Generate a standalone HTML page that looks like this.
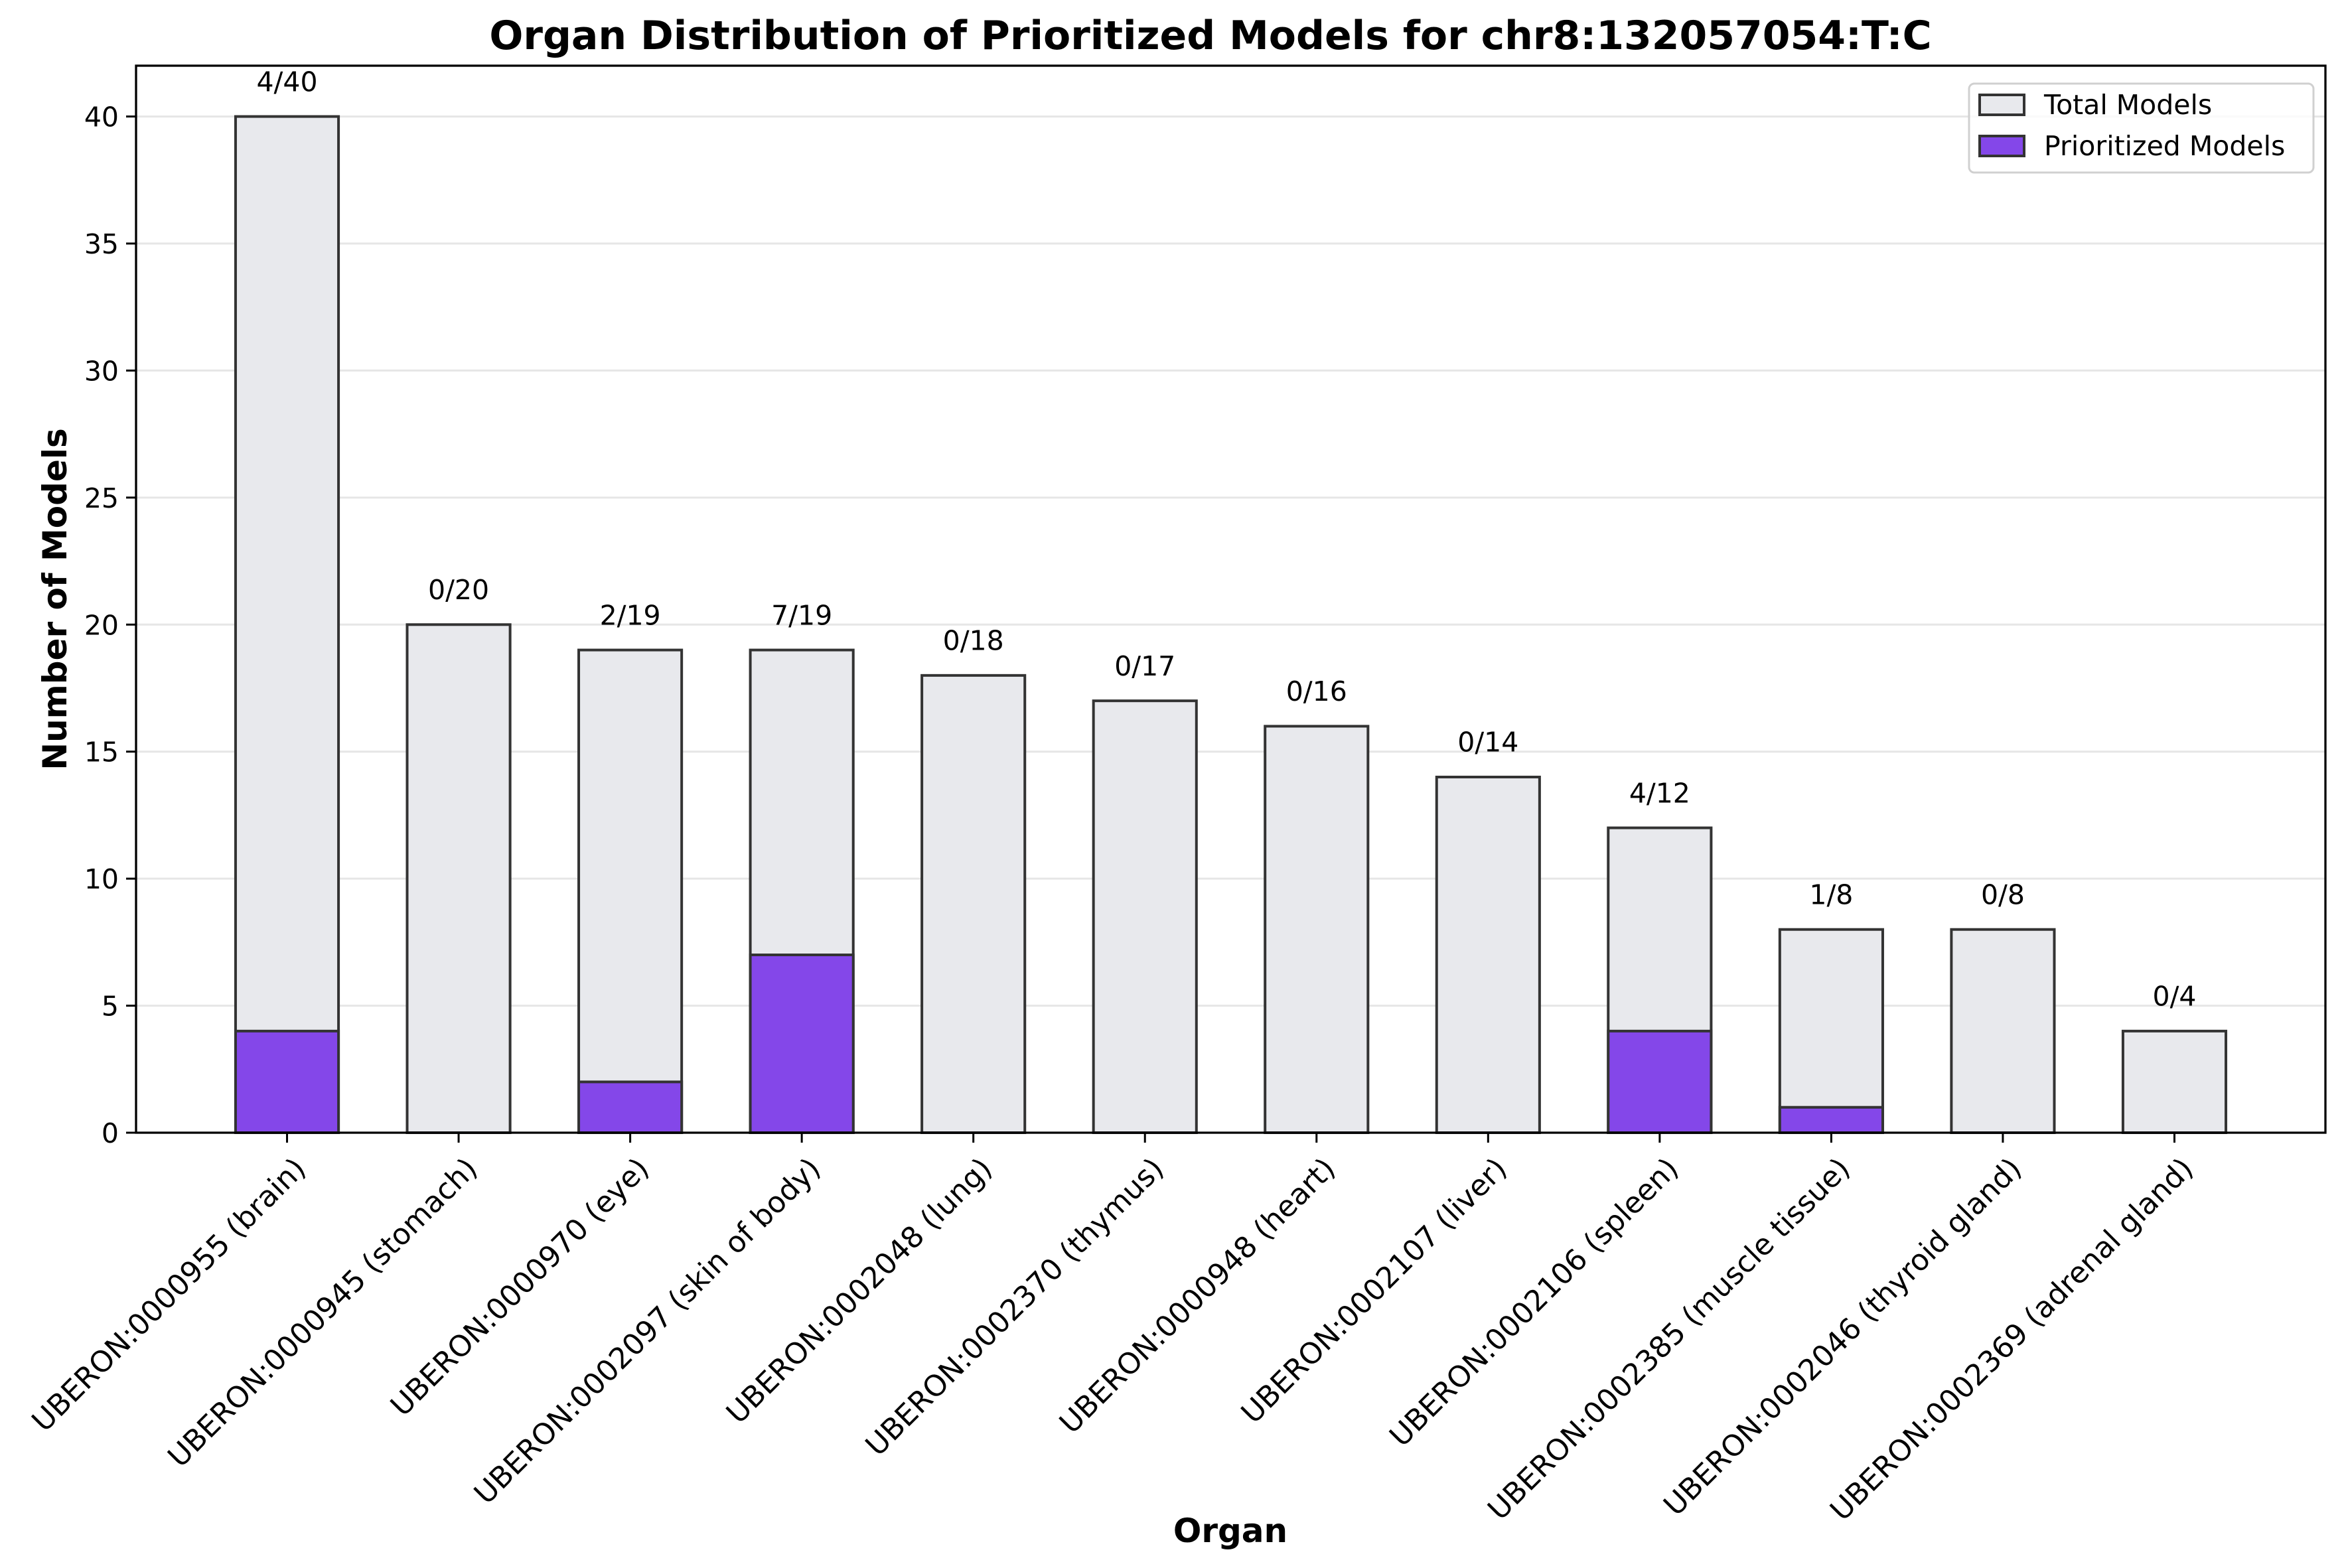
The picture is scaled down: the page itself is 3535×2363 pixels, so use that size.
<!DOCTYPE html>
<html><head><meta charset="utf-8">
<style>
html,body{margin:0;padding:0;background:#fff;}
svg{display:block;font-family:"DejaVu Sans","Liberation Sans",sans-serif;}
</style></head>
<body>
<svg id="chart" xmlns="http://www.w3.org/2000/svg" width="3535" height="2363" viewBox="0 0 3535 2363">
<rect width="3535" height="2363" fill="#fff"/>
<g id="grid"></g>
<g id="bars"></g>
<g id="annots"></g>
<g id="axes"></g>
<text x="1824" y="74" text-anchor="middle" font-size="60" font-weight="bold">Organ Distribution of Prioritized Models for chr8:132057054:T:C</text>
<text transform="translate(100,903) rotate(-90)" text-anchor="middle" font-size="50" font-weight="bold">Number of Models</text>
<text x="1854" y="2324" text-anchor="middle" font-size="50" font-weight="bold">Organ</text>
<g>
<rect x="2967" y="126" width="519" height="134" rx="8" fill="#fff" fill-opacity="0.8" stroke="#d0d0d0" stroke-width="3"/>
<rect x="2983" y="143" width="67" height="30" fill="#e8e9ed" stroke="#333" stroke-width="4"/>
<text x="3080" y="172" font-size="41">Total Models</text>
<rect x="2983" y="205" width="67" height="30" fill="#8447e9" stroke="#333" stroke-width="4"/>
<text x="3080" y="234" font-size="41">Prioritized Models</text>
</g>
</svg>
<script>
const categories = ["UBERON:0000955 (brain)","UBERON:0000945 (stomach)","UBERON:0000970 (eye)","UBERON:0002097 (skin of body)","UBERON:0002048 (lung)","UBERON:0002370 (thymus)","UBERON:0000948 (heart)","UBERON:0002107 (liver)","UBERON:0002106 (spleen)","UBERON:0002385 (muscle tissue)","UBERON:0002046 (thyroid gland)","UBERON:0002369 (adrenal gland)"];
const totalModels = [40,20,19,19,18,17,16,14,12,8,8,4];
const prioritizedModels = [4,0,2,7,0,0,0,0,4,1,0,0];
const yTicks = [0,5,10,15,20,25,30,35,40];

const NS="http://www.w3.org/2000/svg";
const L=205,R=3504,T=99,B=1707;
const xMin=-0.88,xMax=categories.length-1+0.88,yMax=42;
const sx=v=>L+(v-xMin)/(xMax-xMin)*(R-L);
const sy=v=>B-v/yMax*(B-T);
const bw=0.6*(R-L)/(xMax-xMin);
function mk(tag,attrs,parent){const e=document.createElementNS(NS,tag);for(const k in attrs)e.setAttribute(k,attrs[k]);parent.appendChild(e);return e;}
const grid=document.getElementById('grid'),bars=document.getElementById('bars'),ann=document.getElementById('annots'),axes=document.getElementById('axes');
yTicks.forEach(t=>{
  const g=mk('line',{x1:L,x2:R,y1:sy(t),y2:sy(t),stroke:'#e6e6e6','stroke-width':3},grid);
  
  
  const tk=mk('line',{x1:L-15,x2:L,y1:sy(t),y2:sy(t),stroke:'#000','stroke-width':3},axes);
  
  
  const tl=mk('text',{x:L-26,y:sy(t)+15,'text-anchor':'end','font-size':41},axes);
  tl.textContent=t;
  
  
});
categories.forEach((c,i)=>{
  const cx=sx(i);
  const r=mk('rect',{x:cx-bw/2,y:sy(totalModels[i]),width:bw,height:sy(0)-sy(totalModels[i]),fill:'#e8e9ed',stroke:'#333','stroke-width':4},bars);
  
  
  if(prioritizedModels[i]>0){
    const p=mk('rect',{x:cx-bw/2,y:sy(prioritizedModels[i]),width:bw,height:sy(0)-sy(prioritizedModels[i]),fill:'#8447e9',stroke:'#333','stroke-width':4},bars);
    
    
  }
  const a=mk('text',{x:cx,y:sy(totalModels[i]+1),'text-anchor':'middle','font-size':41},ann);
  a.textContent=prioritizedModels[i]+'/'+totalModels[i];
  
  
  const tk=mk('line',{x1:cx,x2:cx,y1:B,y2:B+15,stroke:'#000','stroke-width':3},axes);
  
  
  const tl=mk('text',{transform:`translate(${cx+8},${B+34}) rotate(-45)`,'text-anchor':'end','font-size':44,'dominant-baseline':'hanging'},axes);
  tl.textContent=c;
  
  
});
const frame=mk('rect',{x:L,y:T,width:R-L,height:B-T,fill:'none',stroke:'#000','stroke-width':3.3},axes);


</script>
</body></html>
